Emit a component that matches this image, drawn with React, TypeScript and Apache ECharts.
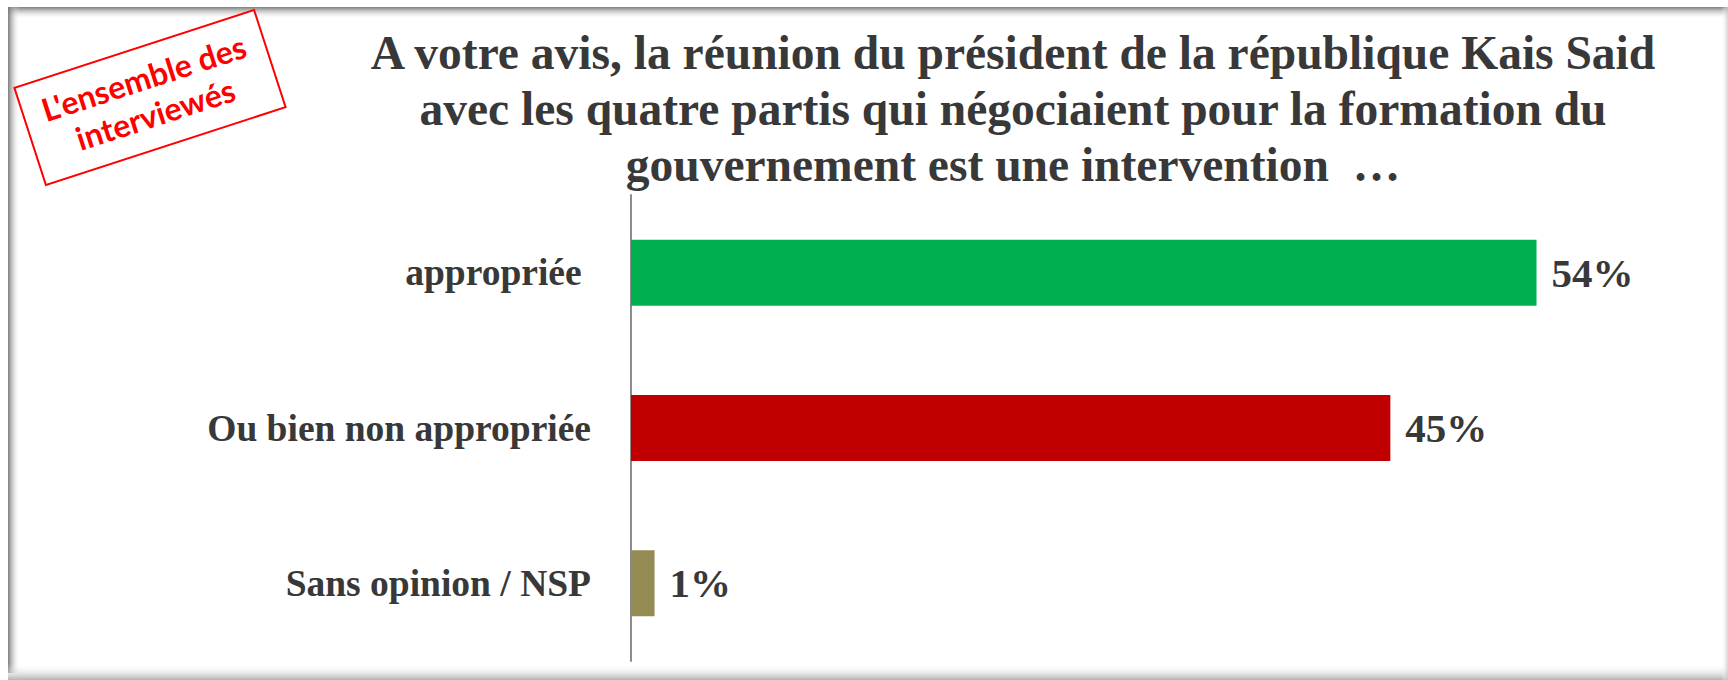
import React, { useEffect, useRef } from "react";
import * as echarts from "echarts";

const categories = ["appropriée ", "Ou bien non appropriée", "Sans opinion / NSP"];
const values = [53.9, 45.2, 1.4];
const barColors = ["#00b050", "#c00000", "#948a54"];
const titleLines = [
  "A votre avis, la réunion du président de la république Kais Said",
  "avec les quatre partis qui négociaient pour la formation du",
  "gouvernement est une intervention  …",
];
const stampLines = ["L'ensemble des", "interviewés"];

export default function App() {
  const ref = useRef<HTMLDivElement>(null);
  useEffect(() => {
    if (!ref.current) return;
    const chart = echarts.init(ref.current, null, { renderer: "svg" });
    const textColor = "#383838";
    const serif = "'Liberation Serif', 'Times New Roman', serif";
    const stampFont = "Lato, 'Open Sans', sans-serif";
    chart.setOption({
      animation: false,
      backgroundColor: "#ffffff",
      title: {
        text: titleLines.join("\n"),
        left: 1008,
        top: 20,
        textAlign: "center",
        textStyle: {
          fontFamily: serif,
          fontWeight: "bold",
          fontSize: 47.5,
          lineHeight: 56,
          color: textColor,
        },
      },
      grid: { left: 631, right: 89, top: 195, bottom: 19, containLabel: false },
      xAxis: { type: "value", min: 0, max: 60, show: false },
      yAxis: {
        type: "category",
        inverse: true,
        data: categories,
        axisLine: { show: true, lineStyle: { color: "#8c8c8c", width: 2 } },
        axisTick: { show: false },
        axisLabel: {
          margin: 40,
          fontFamily: serif,
          fontWeight: "bold",
          fontSize: 37.5,
          color: textColor,
        },
      },
      series: [
        {
          type: "bar",
          barWidth: 66,
          data: values.map((v, i) => ({ value: v, itemStyle: { color: barColors[i] } })),
          label: {
            show: true,
            position: "right",
            distance: 15,
            formatter: (p: any) => Math.round(p.value) + "%",
            fontFamily: serif,
            fontWeight: "bold",
            fontSize: 41,
            color: textColor,
          },
        },
      ],
      graphic: [
        {
          type: "rect",
          shape: { x: 8, y: 7, width: 1720, height: 12 },
          style: {
            fill: new echarts.graphic.LinearGradient(0, 0, 0, 1, [
              { offset: 0, color: "rgba(110,110,110,0.9)" },
              { offset: 1, color: "rgba(255,255,255,0)" },
            ]),
          },
          silent: true,
        },
        {
          type: "rect",
          shape: { x: 8, y: 7, width: 12, height: 666 },
          style: {
            fill: new echarts.graphic.LinearGradient(0, 0, 1, 0, [
              { offset: 0, color: "rgba(110,110,110,0.9)" },
              { offset: 1, color: "rgba(255,255,255,0)" },
            ]),
          },
          silent: true,
        },
        {
          type: "rect",
          shape: { x: 8, y: 664, width: 1720, height: 16 },
          style: {
            fill: new echarts.graphic.LinearGradient(0, 0, 0, 1, [
              { offset: 0, color: "rgba(255,255,255,0)" },
              { offset: 1, color: "rgba(170,170,170,0.9)" },
            ]),
          },
          silent: true,
        },
        {
          type: "rect",
          shape: { x: 1721, y: 7, width: 7, height: 673 },
          style: {
            fill: new echarts.graphic.LinearGradient(0, 0, 1, 0, [
              { offset: 0, color: "rgba(255,255,255,0)" },
              { offset: 1, color: "rgba(200,200,200,0.8)" },
            ]),
          },
          silent: true,
        },
        {
          type: "group",
          x: 150,
          y: 97.5,
          rotation: (18 * Math.PI) / 180,
          children: [
            {
              type: "rect",
              shape: { x: -126, y: -51, width: 252, height: 102 },
              style: { fill: "#ffffff", stroke: "#ff0000", lineWidth: 2 },
            },
            {
              type: "text",
              x: 0,
              y: -21,
              style: {
                text: stampLines[0],
                fill: "#ff0000",
                fontFamily: stampFont,
                fontWeight: "bold",
                fontSize: 32,
                align: "center",
                verticalAlign: "middle",
              },
            },
            {
              type: "text",
              x: 0,
              y: 17,
              style: {
                text: stampLines[1],
                fill: "#ff0000",
                fontFamily: stampFont,
                fontWeight: "bold",
                fontSize: 32,
                align: "center",
                verticalAlign: "middle",
              },
            },
          ],
        },
      ],
    });
    return () => chart.dispose();
  }, []);
  return (
    <div
      ref={ref}
      style={{ position: "fixed", left: 0, top: 0, width: 1728, height: 680 }}
    />
  );
}
